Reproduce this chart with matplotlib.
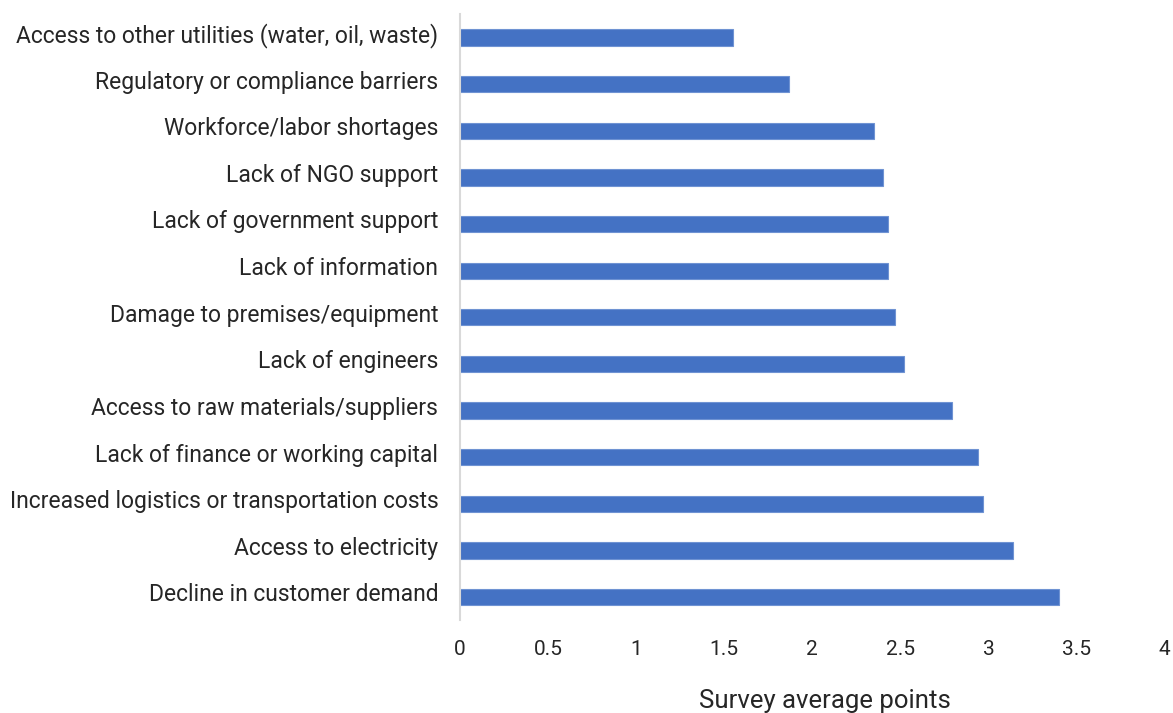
import matplotlib
matplotlib.use("Agg")
import matplotlib.pyplot as plt
from matplotlib.transforms import ScaledTranslation

plt.rcParams['font.family'] = ['Roboto', 'DejaVu Sans']

categories = [
    "Decline in customer demand",
    "Access to electricity",
    "Increased logistics or transportation costs",
    "Lack of finance or working capital",
    "Access to raw materials/suppliers",
    "Lack of engineers",
    "Damage to premises/equipment",
    "Lack of information",
    "Lack of government support",
    "Lack of NGO support",
    "Workforce/labor shortages",
    "Regulatory or compliance barriers",
    "Access to other utilities (water, oil, waste)",
]
scores = [3.40, 3.14, 2.97, 2.94, 2.79, 2.52, 2.47, 2.43, 2.43, 2.40, 2.35, 1.87, 1.55]
xticks = [0, 0.5, 1, 1.5, 2, 2.5, 3, 3.5, 4]
xtick_labels = ["0", "0.5", "1", "1.5", "2", "2.5", "3", "3.5", "4"]

fig = plt.figure(figsize=(11.73, 7.13), dpi=100)
ax = fig.add_axes([0.392, 0.130, 0.601, 0.850])

ax.barh(range(len(categories)), scores, height=0.35, color="#4472C4",
        edgecolor="#6f93d3", linewidth=0.8, zorder=2)

ax.set_xlim(0, 4)
ax.set_ylim(-0.5, len(categories) - 0.5)
ax.set_yticks(range(len(categories)))
ax.set_yticklabels(categories, fontsize=16.5, color="#262626", va="center")
ax.set_xticks(xticks)
ax.set_xticklabels(xtick_labels, fontsize=15, color="#262626")
ax.tick_params(axis="both", length=0)
ax.tick_params(axis="y", pad=15.5)
ax.tick_params(axis="x", pad=14)

# nudge category labels up a little so they sit just above the bar centres
shift = ScaledTranslation(0, 1.5 / 72, fig.dpi_scale_trans)
for lbl in ax.get_yticklabels():
    lbl.set_transform(lbl.get_transform() + shift)

for side in ["top", "right", "bottom"]:
    ax.spines[side].set_visible(False)
ax.spines["left"].set_color("#d9d9d9")
ax.spines["left"].set_linewidth(1.5)

ax.set_xlabel("Survey average points", fontsize=18.5, color="#262626")
ax.xaxis.set_label_coords(0.518, -0.113)

fig.savefig("out.png", dpi=100, facecolor="white")
